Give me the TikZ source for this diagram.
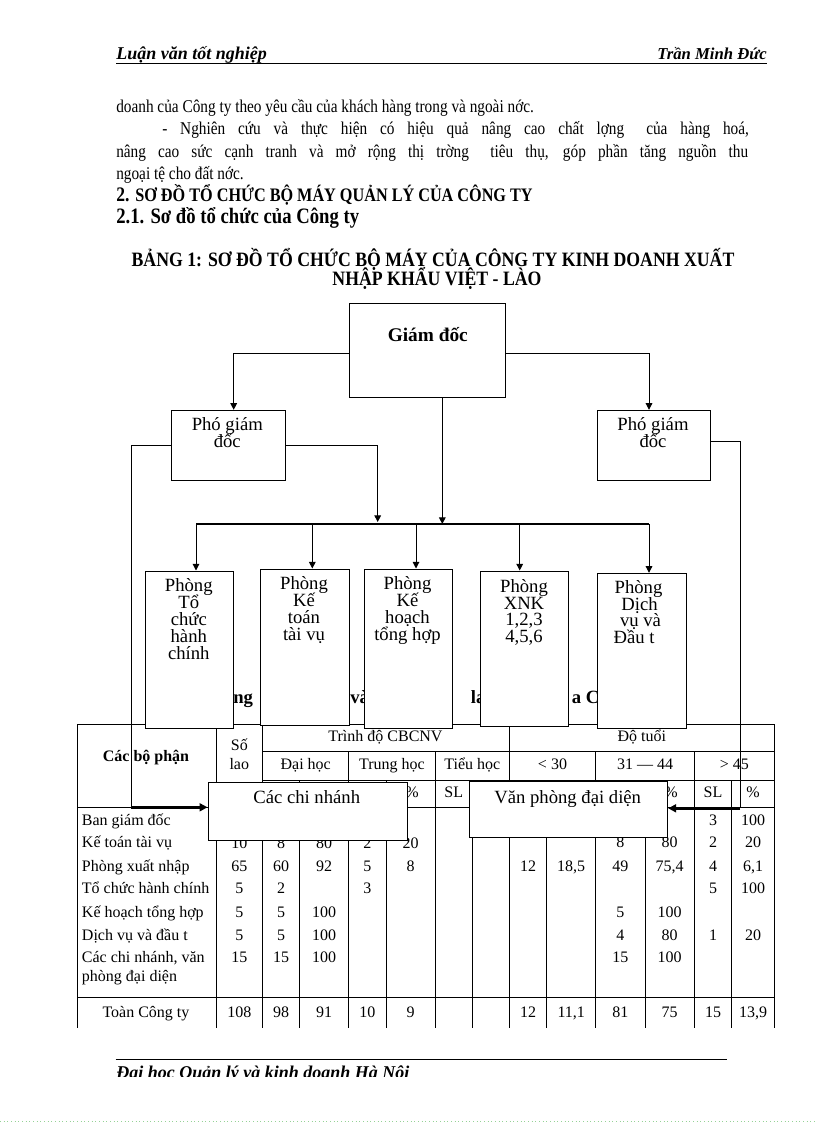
\documentclass[tikz,border=0pt]{standalone}
\usepackage{fontspec}
\setmainfont{Liberation Serif}
\usetikzlibrary{arrows.meta,fit}
\definecolor{dotgreen}{RGB}{150,210,150}
\newcommand{\tcell}[4]{\node[tb,anchor=base] (#1) at (#2,#3) {#4};}
\newcommand{\hsq}[1]{\scalebox{0.85}[1]{#1}}
\newcommand{\hsqt}[1]{\scalebox{0.87}[1]{#1}}
\begin{document}
\begin{tikzpicture}[x=0.75pt,y=-0.75pt,
  box/.style={draw,line width=0.75pt,fill=white,inner sep=0pt},
  ln/.style={line width=0.75pt},
  arr/.style={line width=0.75pt,-{Triangle[length=5pt,width=5pt]}},
  thk/.style={line width=1.8pt},
  tarr/.style={line width=1.8pt,-{Triangle[length=6pt,width=6pt]}},
  bt/.style={font=\fontsize{14}{15}\selectfont,inner sep=0pt,anchor=base},
  tb/.style={font=\fontsize{12}{13}\selectfont,inner sep=0pt},
  body/.style={font=\fontsize{13.5}{15}\selectfont,inner sep=0pt,anchor=base west},
  frag/.style={font=\bfseries\fontsize{14}{15}\selectfont,inner sep=0pt},
]
\useasboundingbox[fill=white] (0,0) rectangle (816,1123);

% ---------- header ----------
\node[anchor=base west,inner sep=0pt,font=\bfseries\itshape\fontsize{13.5}{14}\selectfont] (hl) at (116,60) {Luận văn tốt nghiệp};
\node[anchor=base east,inner sep=0pt,font=\bfseries\itshape\fontsize{12.5}{14}\selectfont] (hr) at (767,60) {Trần Minh Đức};
\draw[line width=0.6pt] (116,63.5) -- (767,63.5);

% ---------- body ----------
\node[body] (l1) at (116,113) {\hsq{doanh của Công ty theo yêu cầu của khách hàng trong và ngoài nớc.}};
\node[body] (l2) at (162,135) {\hsq{\makebox[517.6pt][s]{- Nghiên cứu và thực hiện có hiệu quả nâng cao chất lợng\hspace{0.6em} của hàng hoá,}}};
\node[body] (l3) at (116,157.5) {\hsq{\makebox[557.6pt][s]{nâng cao sức cạnh tranh và mở rộng thị trờng\hspace{0.6em} tiêu thụ, góp phần tăng nguồn thu}}};
\node[body] (l4) at (116,180) {\hsq{ngoại tệ cho đất nớc.}};
\node[body,font=\bfseries\fontsize{15.5}{16}\selectfont] (h2) at (116,202) {\hsq{2. {\fontsize{14.3}{15}\selectfont SƠ ĐỒ TỔ CHỨC BỘ MÁY QUẢN LÝ CỦA CÔNG TY}}};
\node[body,font=\bfseries\fontsize{16.5}{17}\selectfont] (h21) at (116,223.5) {\hsq{2.1. Sơ đồ tổ chức của Công ty}};
\node[anchor=base,inner sep=0pt,font=\bfseries\fontsize{15.3}{15}\selectfont] (t1) at (433,266) {\hsqt{BẢNG 1: SƠ ĐỒ TỔ CHỨC BỘ MÁY CỦA CÔNG TY KINH DOANH XUẤT}};
\node[anchor=base,inner sep=0pt,font=\bfseries\fontsize{15.3}{15}\selectfont] (t2) at (437,285) {\hsqt{NHẬP KHẨU VIỆT - LÀO}};

% ---------- table ----------
\draw[ln] (77.3,724) -- (774.3,724);
\draw[ln] (262.7,751.7) -- (774.3,751.7);
\draw[ln] (262.7,780) -- (774.3,780);
\draw[ln] (77.3,807.3) -- (774.3,807.3);
\draw[ln] (77.3,997.3) -- (774.3,997.3);
\foreach \x in {77.3,216,262.7,509.3,774.3} \draw[ln] (\x,724) -- (\x,1028.3);
\foreach \x in {348.7,435.3,595.7,694.3} \draw[ln] (\x,751.7) -- (\x,1028.3);
\foreach \x in {299.3,386,472,546.7,645,731.7} \draw[ln] (\x,780) -- (\x,1028.3);

\node[tb,anchor=base,font=\bfseries\fontsize{12}{13}\selectfont] (hbp) at (146,761.5) {Các bộ phận};
\tcell{hs1}{239.3}{750.5}{Số}
\tcell{hs2}{239.3}{769.5}{lao}
\tcell{htd}{385.5}{741}{Trình độ CBCNV}
\tcell{hdt}{641.8}{741}{Độ tuổi}
\tcell{hdh}{305.7}{769.5}{Đại học}
\tcell{hth}{392}{769.5}{Trung học}
\tcell{hti}{472.3}{769.5}{Tiểu học}
\tcell{ha1}{552.5}{769.5}{< 30}
\tcell{ha2}{645}{769.5}{31 — 44}
\tcell{ha3}{734.3}{769.5}{> 45}
\tcell{sp1}{412}{797}{\%}
\tcell{sp2}{453.7}{797}{SL}
\tcell{sp3}{671}{797}{\%}
\tcell{sp4}{713}{797}{SL}
\tcell{sp5}{753}{797}{\%}

% row labels
\node[tb,anchor=base west] (r1) at (81.7,825.5) {Ban giám đốc};
\node[tb,anchor=base west] (r2) at (81.7,847.8) {Kế toán tài vụ};
\node[tb,anchor=base west] (r3) at (81.7,871.2) {Phòng xuất nhập};
\node[tb,anchor=base west] (r4) at (81.7,893.8) {Tổ chức hành chính};
\node[tb,anchor=base west] (r5) at (81.7,917.2) {Kế hoạch tổng hợp};
\node[tb,anchor=base west] (r6) at (81.7,940.2) {Dịch vụ và đầu t};
\node[tb,anchor=base west] (r7) at (81.7,962.8) {Các chi nhánh, văn};
\node[tb,anchor=base west] (r7b) at (81.7,981.8) {phòng đại diện};
\node[tb,anchor=base] (r8) at (146,1017.8) {Toàn Công ty};

% data
\tcell{a1k}{713}{825.5}{3}\tcell{a1l}{753}{825.5}{100}
\tcell{a2s}{239.3}{848.5}{10}\tcell{a2a}{281}{848.5}{8}\tcell{a2b}{324}{848.5}{80}\tcell{a2c}{367.3}{848.5}{2}\tcell{a2d}{410.7}{848.5}{20}
\tcell{a2i}{620.3}{847.8}{8}\tcell{a2j}{669.7}{847.8}{80}\tcell{a2k}{713}{847.8}{2}\tcell{a2l}{753}{847.8}{20}
\tcell{a3s}{239.3}{871.2}{65}\tcell{a3a}{281}{871.2}{60}\tcell{a3b}{324}{871.2}{92}\tcell{a3c}{367.3}{871.2}{5}\tcell{a3d}{410.7}{871.2}{8}
\tcell{a3g}{528}{871.2}{12}\tcell{a3h}{571.2}{871.2}{18,5}\tcell{a3i}{620.3}{871.2}{49}\tcell{a3j}{669.7}{871.2}{75,4}\tcell{a3k}{713}{871.2}{4}\tcell{a3l}{753}{871.2}{6,1}
\tcell{a4s}{239.3}{893.8}{5}\tcell{a4a}{281}{893.8}{2}\tcell{a4c}{367.3}{893.8}{3}\tcell{a4k}{713}{893.8}{5}\tcell{a4l}{753}{893.8}{100}
\tcell{a5s}{239.3}{917.2}{5}\tcell{a5a}{281}{917.2}{5}\tcell{a5b}{324}{917.2}{100}\tcell{a5i}{620.3}{917.2}{5}\tcell{a5j}{669.7}{917.2}{100}
\tcell{a6s}{239.3}{940.2}{5}\tcell{a6a}{281}{940.2}{5}\tcell{a6b}{324}{940.2}{100}\tcell{a6i}{620.3}{940.2}{4}\tcell{a6j}{669.7}{940.2}{80}\tcell{a6k}{713}{940.2}{1}\tcell{a6l}{753}{940.2}{20}
\tcell{a7s}{239.3}{962.8}{15}\tcell{a7a}{281}{962.8}{15}\tcell{a7b}{324}{962.8}{100}\tcell{a7i}{620.3}{962.8}{15}\tcell{a7j}{669.7}{962.8}{100}
\tcell{a8s}{239.3}{1017.8}{108}\tcell{a8a}{281}{1017.8}{98}\tcell{a8b}{324}{1017.8}{91}\tcell{a8c}{367.3}{1017.8}{10}\tcell{a8d}{410.7}{1017.8}{9}
\tcell{a8g}{528}{1017.8}{12}\tcell{a8h}{571.2}{1017.8}{11,1}\tcell{a8i}{620.3}{1017.8}{81}\tcell{a8j}{669.7}{1017.8}{75}\tcell{a8k}{713}{1017.8}{15}\tcell{a8l}{753}{1017.8}{13,9}

% ---------- title fragments (partly hidden) ----------
\node[frag,anchor=base east] (f1) at (253.3,703.3) {ng};
\node[frag,anchor=base west] (f2) at (350,703.3) {và};
\node[frag,anchor=base west] (f3) at (470.7,703.3) {la};
\node[frag,anchor=base west] (f4) at (571.7,703.3) {a C};

% ---------- boxes ----------
\node[box,fit={(349.3,303.3)(505.3,397.3)}] (gd) {};
\node[box,fit={(171.7,410.3)(285,480.3)}] (p1) {};
\node[box,fit={(597.3,410.3)(710.3,480.3)}] (p2) {};
\node[box,fit={(145,571)(233.7,728)}] (b1) {};
\node[box,fit={(260.3,569)(349,725)}] (b2) {};
\node[box,fit={(364,569)(452.7,728)}] (b3) {};
\node[box,fit={(480,571)(568.7,726)}] (b4) {};
\node[box,fit={(597.3,573.3)(686,728)}] (b5) {};
\node[box,fit={(208,782.3)(407.3,840)}] (cn) {};
\node[box,fit={(469.3,781.7)(667.7,837.3)}] (vp) {};

% box texts
\node[bt,font=\bfseries\fontsize{14.5}{15}\selectfont] (gdt) at (427.8,341) {Giám đốc};
\node[bt] (p1a) at (227.3,430) {Phó giám};
\node[bt] (p1b) at (227.3,447.5) {đốc};
\node[bt] (p2a) at (653,430) {Phó giám};
\node[bt] (p2b) at (653,447.5) {đốc};
\foreach \t [count=\i] in {Phòng,Tổ,chức,hành,chính}
  \node[bt] (b1t\i) at (188.8,{591+(\i-1)*17}) {\t};
\foreach \t [count=\i] in {Phòng,Kế,toán,tài vụ}
  \node[bt] (b2t\i) at (304,{589.5+(\i-1)*17}) {\t};
\foreach \t [count=\i] in {Phòng,Kế,hoạch,tổng hợp}
  \node[bt] (b3t\i) at (407.5,{589.5+(\i-1)*17}) {\t};
\foreach \t [count=\i] in {Phòng,XNK,{1,2,3},{4,5,6}}
  \node[bt] (b4t\i) at (524,{592.5+(\i-1)*16.7}) {\t};
\node[bt] (b5t1) at (638.5,593.5) {Phòng};
\node[bt] (b5t2) at (639.5,610) {Dịch};
\node[bt] (b5t3) at (640.5,626.5) {vụ và};
\node[bt] (b5t4) at (634,643) {Đầu t};
\node[bt] (cnt) at (306.7,803) {Các chi nhánh};
\node[bt] (vpt) at (567.7,803) {Văn phòng đại diện};

% ---------- connectors ----------
\coordinate (d1) at (196,524);
\coordinate (d2) at (312.3,524);
\coordinate (d3) at (416,524);
\coordinate (d4) at (519.7,524);
\coordinate (d5) at (649,524);
\coordinate (bgd) at (442.3,524);
\coordinate (bp1) at (377.7,522);
\coordinate (lc) at (131,807.3);
\coordinate (rc) at (740,808.3);

\draw[arr] ([yshift=-2.25pt]gd.west) -| ([xshift=4pt]p1.north);
\draw[arr] ([yshift=-2.25pt]gd.east) -| ([xshift=-3.6pt]p2.north);
\draw[arr] ([xshift=11.25pt]gd.south) -- (bgd);
\draw[arr] (p1.east) -| (bp1);
\draw[thk] (d1) -- (d5);
\draw[arr] (d1) -- (d1 |- b1.north);
\draw[arr] (d2) -- (d2 |- b2.north);
\draw[arr] (d3) -- (d3 |- b3.north);
\draw[arr] (d4) -- (d4 |- b4.north);
\draw[arr] (d5) -- (d5 |- b5.north);
\draw[ln] (p1.west) -| (lc);
\draw[tarr] (lc) -- (lc -| cn.west);
\draw[ln] ([yshift=2.5pt]p2.east) -| (rc);
\draw[tarr] (rc) -- (rc -| vp.east);

% ---------- footer ----------
\draw[line width=0.75pt] (115.7,1059.3) -- (727.3,1059.3);
\begin{scope}
  \clip (100,1060) rectangle (520,1076.5);
  \node[anchor=base west,inner sep=0pt,font=\bfseries\itshape\fontsize{13.5}{14}\selectfont] (ft) at (116,1078) {Đại học Quản lý và kinh doanh Hà Nội};
\end{scope}
\draw[dotgreen,dotted,line width=0.75pt] (0,1121) -- (816,1121);
\end{tikzpicture}
\end{document}
